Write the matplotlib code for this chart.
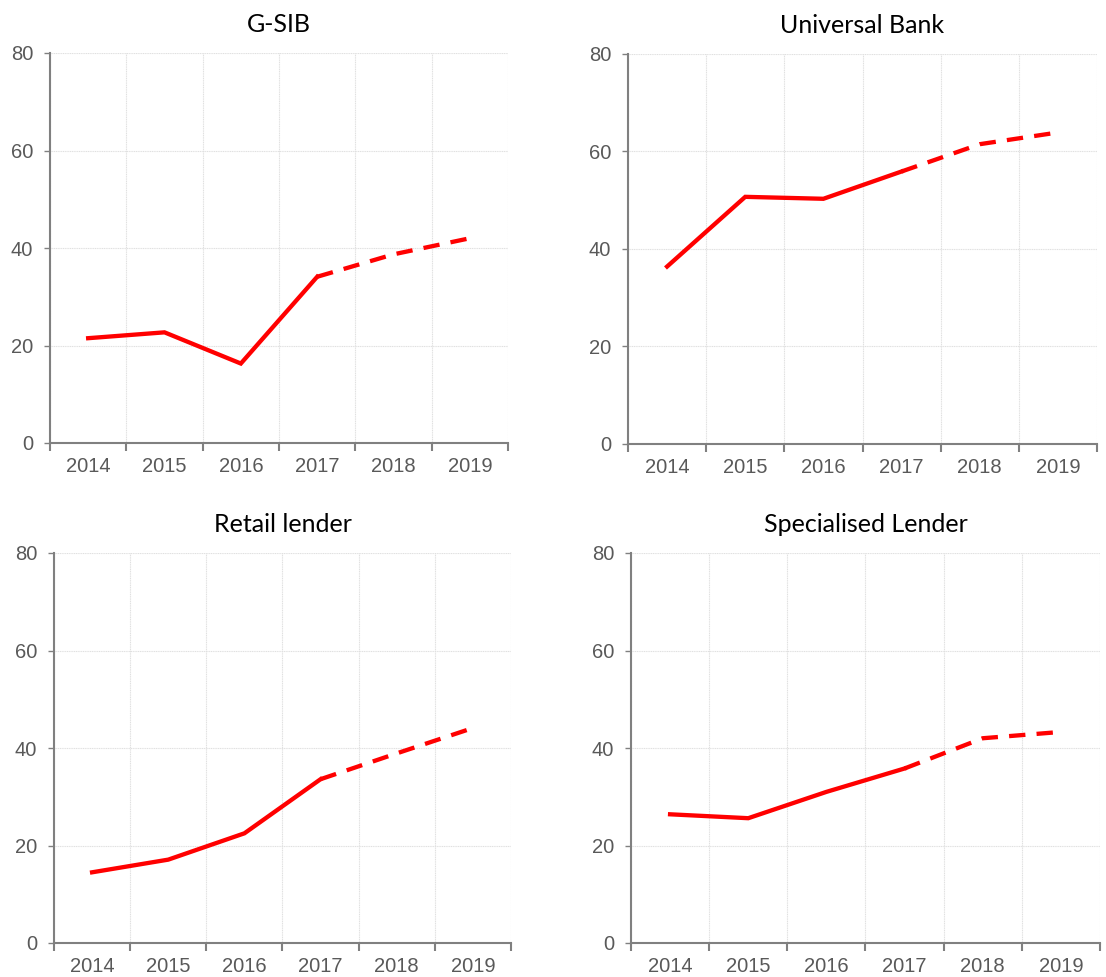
import numpy as np
import matplotlib.pyplot as plt

years = ["2014", "2015", "2016", "2017", "2018", "2019"]
titles = ["G-SIB", "Universal Bank", "Retail lender", "Specialised Lender"]

gsib = [21.5, 22.7, 16.3, 34.1, 38.7, 42.0]
universal = [36.4, 50.7, 50.3, 55.9, 61.5, 63.9]
retail = [14.5, 17.1, 22.5, 33.6, 38.9, 44.1]
specialised = [26.4, 25.6, 31.0, 35.8, 42.0, 43.3]

series = [gsib, universal, retail, specialised]
split = 3  # last actual year index (2017), projections after

W, H = 1106, 977
fig = plt.figure(figsize=(W / 100, H / 100), dpi=100)

# pixel boxes: left, right, top, bottom
boxes = [(50, 508, 53, 443), (628, 1097, 54, 444),
         (54, 511, 553, 943), (631, 1100, 553, 943)]

grey = "#595959"
for title, vals, (l, r, t, b) in zip(titles, series, boxes):
    ax = fig.add_axes([l / W, 1 - b / H, (r - l) / W, (b - t) / H])
    x = np.arange(len(years))
    v = np.array(vals)
    ax.plot(x[:split + 1], v[:split + 1], color="#ff0000", lw=3.1,
            solid_joinstyle="miter", zorder=3)
    ax.plot(x[split:], v[split:], color="#ff0000", lw=3.1,
            linestyle=(0, (3.8, 2.6)), zorder=3)

    ax.set_xlim(-0.5, len(years) - 0.5)
    ax.set_ylim(0, 80)
    ax.set_yticks([0, 20, 40, 60, 80])
    ax.set_xticks(np.arange(len(years) + 1) - 0.5)
    ax.set_xticklabels([])
    ax.set_xticks(x, minor=True)
    ax.set_xticklabels(years, minor=True)
    ax.tick_params(axis="x", which="major", length=6, width=1.5, color="#808080")
    ax.tick_params(axis="x", which="minor", length=0, pad=10,
                   labelsize=14.5, labelcolor=grey)
    ax.tick_params(axis="y", length=4, width=1, color="#808080", pad=8,
                   labelsize=14.5, labelcolor=grey)
    for lab in ax.get_xticklabels(minor=True) + ax.get_yticklabels():
        lab.set_family("Liberation Sans")

    ax.grid(True, which="major", color="#e0e0e0", lw=0.8, ls=(0, (1, 0.6)))
    ax.set_axisbelow(True)
    for s in ["top", "right"]:
        ax.spines[s].set_visible(False)
    for s in ["left", "bottom"]:
        ax.spines[s].set_color("#808080")
        ax.spines[s].set_linewidth(1.5)

    ax.set_title(title, fontsize=18, family="Lato", pad=15)

fig.savefig("out.png", dpi=100)
